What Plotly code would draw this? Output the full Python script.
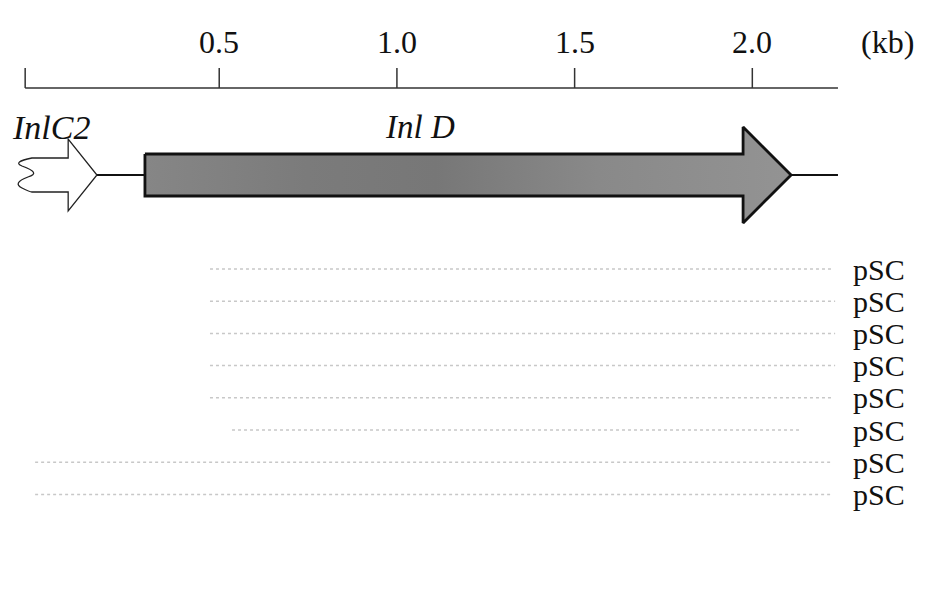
import plotly.graph_objects as go

# ---------------- data (kb) ----------------
tick_kb = [0.5, 1.0, 1.5, 2.0]
tick_labels = ["0.5", "1.0", "1.5", "2.0"]
ruler_start_kb = -0.046
ruler_end_kb = 2.241

gene_names = ["InlC2", "Inl D"]
inlc2_left_kb = -0.055      # wavy (truncated) end
inlc2_headbase_kb = 0.075
inlc2_tip_kb = 0.156
inld_start_kb = 0.291
inld_headbase_kb = 1.974
inld_tip_kb = 2.109
flank_end_kb = 2.241

clone_names = ["pSC", "pSC", "pSC", "pSC", "pSC", "pSC", "pSC", "pSC"]
clone_start_kb = [0.474, 0.474, 0.474, 0.474, 0.474, 0.536, -0.018, -0.018]
clone_end_kb = [2.227, 2.233, 2.233, 2.233, 2.227, 2.134, 2.227, 2.219]

# ---------------- layout constants ----------------
W, H = 927, 606
X_RANGE = [-0.0943, 2.5140]
FONT = "Liberation Serif, Times New Roman, serif"
RULER_Y = 80
TICK_TOP = 60
TICK_LABEL_Y = 34
GENE_Y = 167
GENE_LABEL_Y = 119
ROW0_Y = 261
ROW_STEP = 32.2

fig = go.Figure()

# ruler
fig.add_trace(go.Scatter(x=[ruler_start_kb, ruler_end_kb], y=[RULER_Y, RULER_Y],
                         mode="lines", line=dict(color="#333", width=1.5),
                         hoverinfo="skip", showlegend=False))
for t in [ruler_start_kb] + tick_kb:
    fig.add_shape(type="line", x0=t, x1=t, y0=TICK_TOP, y1=RULER_Y,
                  xref="x", yref="y", line=dict(color="#333", width=1.5))
for t, lab in zip(tick_kb, tick_labels):
    fig.add_annotation(x=t, y=TICK_LABEL_Y, text=lab, showarrow=False,
                       xref="x", yref="y", font=dict(family=FONT, size=32, color="#111"))
fig.add_annotation(x=2.379, y=TICK_LABEL_Y, text="(kb)", showarrow=False,
                   xref="x", yref="y", font=dict(family=FONT, size=32, color="#111"))

# InlC2 (open arrow with wavy truncated end)
sh, hh = 17, 36
a = inlc2_left_kb
d = 0.028
path = (f"M {a+d},{GENE_Y-sh} "
        f"Q {a-d},{GENE_Y-sh+4} {a},{GENE_Y-sh+8} "
        f"Q {a+2*d},{GENE_Y-2} {a+d*0.6},{GENE_Y+2} "
        f"Q {a-d},{GENE_Y+8} {a},{GENE_Y+sh-4} "
        f"Q {a+d*0.8},{GENE_Y+sh} {a+d},{GENE_Y+sh} "
        f"L {inlc2_headbase_kb},{GENE_Y+sh} L {inlc2_headbase_kb},{GENE_Y+hh} "
        f"L {inlc2_tip_kb},{GENE_Y} L {inlc2_headbase_kb},{GENE_Y-hh} "
        f"L {inlc2_headbase_kb},{GENE_Y-sh} Z")
fig.add_shape(type="path", path=path, xref="x", yref="y",
              fillcolor="white", line=dict(color="#222", width=1.3))

# connector line + flank
fig.add_trace(go.Scatter(x=[inlc2_tip_kb, inld_start_kb], y=[GENE_Y, GENE_Y],
                         mode="lines", line=dict(color="#111", width=2),
                         hoverinfo="skip", showlegend=False))
fig.add_trace(go.Scatter(x=[inld_tip_kb, flank_end_kb], y=[GENE_Y, GENE_Y],
                         mode="lines", line=dict(color="#111", width=2),
                         hoverinfo="skip", showlegend=False))

# InlD filled arrow (gray, slightly darker mottling towards the left/middle)
sh2, hh2 = 21, 48
ax = [inld_start_kb, inld_headbase_kb, inld_headbase_kb, inld_tip_kb,
      inld_headbase_kb, inld_headbase_kb, inld_start_kb, inld_start_kb]
ay = [GENE_Y - sh2, GENE_Y - sh2, GENE_Y - hh2, GENE_Y,
      GENE_Y + hh2, GENE_Y + sh2, GENE_Y + sh2, GENE_Y - sh2]
fig.add_trace(go.Scatter(
    x=ax, y=ay, mode="lines", fill="toself",
    fillcolor="#888888",
    fillgradient=dict(type="horizontal",
                      colorscale=[[0, "#868686"], [0.25, "#7b7b7b"], [0.45, "#777777"],
                                  [0.7, "#898989"], [1, "#939393"]]),
    line=dict(color="#111", width=2.8),
    hoverinfo="skip", showlegend=False))

# gene labels
fig.add_annotation(x=-0.09, y=GENE_LABEL_Y, text=f"<i>{gene_names[0]}</i>", showarrow=False,
                   xref="x", yref="y", xanchor="left",
                   font=dict(family=FONT, size=34, color="#111"))
fig.add_annotation(x=1.065, y=GENE_LABEL_Y, text=f"<i>{gene_names[1]}</i>", showarrow=False,
                   xref="x", yref="y",
                   font=dict(family=FONT, size=33, color="#111"))

# clones (very faint dotted lines) and labels
for i, (name, s, e) in enumerate(zip(clone_names, clone_start_kb, clone_end_kb)):
    y = ROW0_Y + i * ROW_STEP
    fig.add_trace(go.Scatter(x=[s, e], y=[y, y], mode="lines",
                             line=dict(color="#c8c8c8", width=1.5, dash="dot"),
                             hoverinfo="skip", showlegend=False))
    fig.add_annotation(x=2.278, y=y, text=name, showarrow=False,
                       xref="x", yref="y", xanchor="left",
                       font=dict(family=FONT, size=30, color="#111"))

fig.update_layout(
    width=W, height=H,
    margin=dict(l=0, r=0, t=0, b=0),
    paper_bgcolor="white", plot_bgcolor="white",
    xaxis=dict(range=X_RANGE, visible=False, fixedrange=True),
    yaxis=dict(range=[H, 0], visible=False, fixedrange=True),
    showlegend=False,
)

fig.write_html("out.html")
